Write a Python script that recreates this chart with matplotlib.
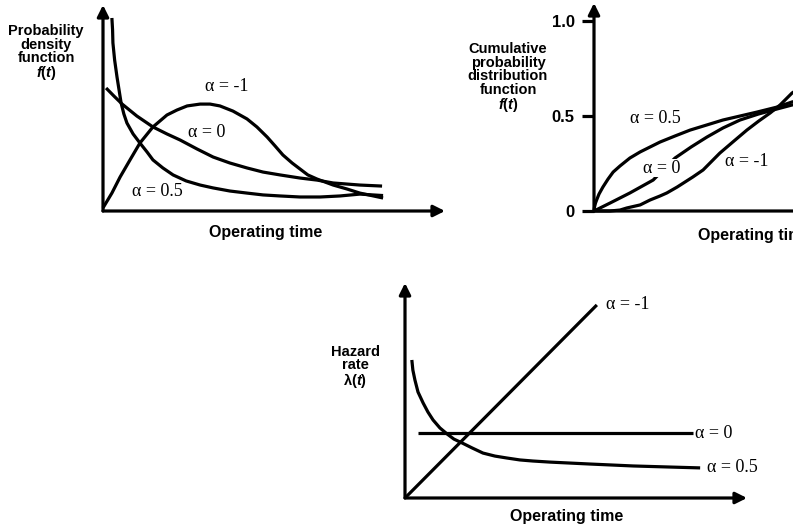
import matplotlib
matplotlib.use("Agg")
import matplotlib.pyplot as plt

plt.rcParams["font.family"] = ["Liberation Sans", "DejaVu Sans"]
plt.rcParams["mathtext.fontset"] = "custom"
plt.rcParams["mathtext.rm"] = "Liberation Sans:bold"
plt.rcParams["mathtext.it"] = "Liberation Sans:bold:italic"

# ---- probability density f(t) ----
pdf_t_m1 = [0, 0.26, 0.50, 0.79, 1.08, 1.46, 1.87, 2.16, 2.46, 2.84, 3.13, 3.42, 3.80, 4.21, 4.50,
            4.80, 5.03, 5.26, 5.53, 5.76, 5.99, 6.26, 6.73, 7.13, 7.51, 8.19]
pdf_f_m1 = [0.015, 0.087, 0.165, 0.248, 0.330, 0.408, 0.466, 0.490, 0.510, 0.519, 0.519, 0.510, 0.485,
            0.447, 0.408, 0.359, 0.316, 0.272, 0.233, 0.204, 0.175, 0.155, 0.126, 0.107, 0.087, 0.063]
pdf_t_0 = [0.09, 0.32, 0.56, 0.99, 1.46, 1.87, 2.25, 2.75, 3.22, 3.71, 4.21, 4.68, 5.18, 5.76, 6.26,
           6.73, 7.51, 8.16]
pdf_f_0 = [0.597, 0.558, 0.519, 0.461, 0.408, 0.374, 0.345, 0.301, 0.262, 0.233, 0.209, 0.189, 0.175,
           0.160, 0.150, 0.136, 0.126, 0.121]
pdf_t_05 = [0.26, 0.28, 0.29, 0.34, 0.41, 0.47, 0.53, 0.61, 0.70, 0.88, 1.08, 1.29, 1.46, 1.75, 2.05,
            2.43, 2.84, 3.22, 3.71, 4.21, 4.68, 5.18, 5.76, 6.35, 6.93, 7.51, 8.19]
pdf_f_05 = [0.937, 0.879, 0.816, 0.733, 0.650, 0.587, 0.524, 0.471, 0.427, 0.374, 0.330, 0.286, 0.248,
            0.209, 0.175, 0.146, 0.126, 0.112, 0.097, 0.087, 0.078, 0.073, 0.068, 0.068, 0.073, 0.082,
            0.075]

# ---- cumulative distribution F(t) ----
cdf_t_05 = [0, 0.015, 0.044, 0.088, 0.146, 0.26, 0.41, 0.56, 0.76, 1.05, 1.35, 1.64, 1.93, 2.37, 2.81,
            3.30, 3.77, 4.27, 4.77, 5.35, 5.79, 6.32]
cdf_F_05 = [0, 0.021, 0.042, 0.063, 0.089, 0.126, 0.168, 0.205, 0.237, 0.279, 0.311, 0.337, 0.363,
            0.395, 0.426, 0.453, 0.479, 0.500, 0.521, 0.547, 0.574, 0.595]
cdf_t_0 = [0, 0.47, 1.05, 1.73, 2.37, 2.84, 3.30, 3.77, 4.27, 4.80, 5.35, 5.79, 6.30]
cdf_F_0 = [0, 0.042, 0.095, 0.163, 0.279, 0.337, 0.389, 0.437, 0.479, 0.510, 0.537, 0.558, 0.575]
cdf_t_m1 = [0, 0.47, 0.76, 0.96, 1.35, 1.64, 1.93, 2.13, 2.43, 2.89, 3.19, 3.68, 4.09, 4.47, 4.82,
            5.15, 5.44, 5.79, 6.30]
cdf_F_m1 = [0, 0, 0.005, 0.016, 0.032, 0.058, 0.079, 0.095, 0.126, 0.179, 0.216, 0.305, 0.368, 0.426,
            0.474, 0.516, 0.558, 0.621, 0.680]
cdf_ticks = [0, 0.5, 1.0]
cdf_ticklabels = ["0", "0.5", "1.0"]

# ---- hazard rate lambda(t) ----
haz_t_m1 = [0, 5.61]
haz_l_m1 = [0, 8.98]
haz_t_0 = [0.38, 8.42]
haz_l_0 = [3.02, 3.02]
haz_t_05 = [0.20, 0.23, 0.29, 0.38, 0.53, 0.67, 0.82, 1.02, 1.23, 1.43, 1.67, 1.96, 2.28, 2.63, 2.98,
            3.36, 3.74, 4.24, 5.41, 6.67, 7.75, 8.63]
haz_l_05 = [6.42, 5.95, 5.49, 4.93, 4.42, 4.00, 3.63, 3.26, 2.98, 2.74, 2.56, 2.33, 2.09, 1.95, 1.86,
            1.77, 1.72, 1.67, 1.58, 1.49, 1.44, 1.40]

W, H = 793, 527
fig = plt.figure(figsize=(W / 100, H / 100), dpi=100)
LW = 2.3
SERIF = ["Liberation Serif", "DejaVu Serif"]
ALPHA_FS = 13
LABEL_FS = 10.5


def box(left, top, right, bottom):
    return fig.add_axes([left / W, 1 - bottom / H, (right - left) / W, (bottom - top) / H])


def arrow_frame(ax):
    for tip in [(1, 0), (0, 1)]:
        ax.annotate("", xy=tip, xytext=(0, 0), xycoords="axes fraction",
                    textcoords="axes fraction", annotation_clip=False,
                    arrowprops=dict(arrowstyle="-|>", color="k", lw=LW,
                                    mutation_scale=17, shrinkA=0, shrinkB=0))
    for s in ax.spines.values():
        s.set_visible(False)
    ax.set_xticks([])
    ax.set_yticks([])
    ax.patch.set_alpha(0)


def curve(ax, t, v):
    ax.plot(t, v, color="k", lw=LW, solid_joinstyle="round",
            solid_capstyle="butt", clip_on=False)


def ftext(x, y, s, **kw):
    fig.text(x / W, 1 - y / H, s, **kw)


# Panel: density
ax1 = box(103, 5, 445, 211)
ax1.set_xlim(0, 10)
ax1.set_ylim(0, 1.0)
arrow_frame(ax1)
curve(ax1, pdf_t_m1, pdf_f_m1)
curve(ax1, pdf_t_0, pdf_f_0)
curve(ax1, pdf_t_05, pdf_f_05)
ax1.text(3.63, 0.602, "α = -1", family=SERIF, fontsize=ALPHA_FS, ha="center", va="center")
ax1.text(3.04, 0.379, "α = 0", family=SERIF, fontsize=ALPHA_FS, ha="center", va="center")
ax1.text(1.58, 0.097, "α = 0.5", family=SERIF, fontsize=ALPHA_FS, ha="center", va="center")
ftext(46, 53, "Probability\ndensity\nfunction\n$f$($t$)", fontsize=LABEL_FS, fontweight="bold",
      ha="center", va="center", linespacing=0.92)
ftext(266, 233, "Operating time", fontsize=11.5, fontweight="bold", ha="center", va="center")

# Panel: cumulative distribution
ax2 = box(594, 3, 936, 211)
ax2.set_xlim(0, 10)
ax2.set_ylim(0, 1.095)
arrow_frame(ax2)
ax2.set_yticks(cdf_ticks)
ax2.set_yticklabels(cdf_ticklabels, fontsize=12, fontweight="bold")
ax2.tick_params(axis="y", length=9, width=LW, direction="out", pad=5)
curve(ax2, cdf_t_05, cdf_F_05)
curve(ax2, cdf_t_0, cdf_F_0)
curve(ax2, cdf_t_m1, cdf_F_m1)
ax2.text(1.78, 0.489, "α = 0.5", family=SERIF, fontsize=ALPHA_FS, ha="center", va="center")
ax2.text(1.99, 0.226, "α = 0", family=SERIF, fontsize=ALPHA_FS, ha="center", va="center",
         bbox=dict(boxstyle="square,pad=0.05", fc="white", ec="none"), zorder=5)
ax2.text(4.47, 0.258, "α = -1", family=SERIF, fontsize=ALPHA_FS, ha="center", va="center")
ftext(508, 78, "Cumulative\nprobability\ndistribution\nfunction\n$f$($t$)", fontsize=LABEL_FS,
      fontweight="bold", ha="center", va="center", linespacing=0.95)
ftext(755, 236, "Operating time", fontsize=11.5, fontweight="bold", ha="center", va="center")

# Panel: hazard rate
ax3 = box(405, 283, 747, 498)
ax3.set_xlim(0, 10)
ax3.set_ylim(0, 10)
arrow_frame(ax3)
curve(ax3, haz_t_m1, haz_l_m1)
curve(ax3, haz_t_0, haz_l_0)
curve(ax3, haz_t_05, haz_l_05)
ax3.text(5.88, 8.98, "α = -1", family=SERIF, fontsize=ALPHA_FS, ha="left", va="center")
ax3.text(8.48, 3.02, "α = 0", family=SERIF, fontsize=ALPHA_FS, ha="left", va="center")
ax3.text(8.83, 1.40, "α = 0.5", family=SERIF, fontsize=ALPHA_FS, ha="left", va="center")
ftext(355, 367, "Hazard\nrate\nλ($t$)", fontsize=LABEL_FS, fontweight="bold", ha="center",
      va="center", linespacing=0.92)
ftext(567, 517, "Operating time", fontsize=11.5, fontweight="bold", ha="center", va="center")

fig.savefig("out.png", dpi=100, facecolor="white")
